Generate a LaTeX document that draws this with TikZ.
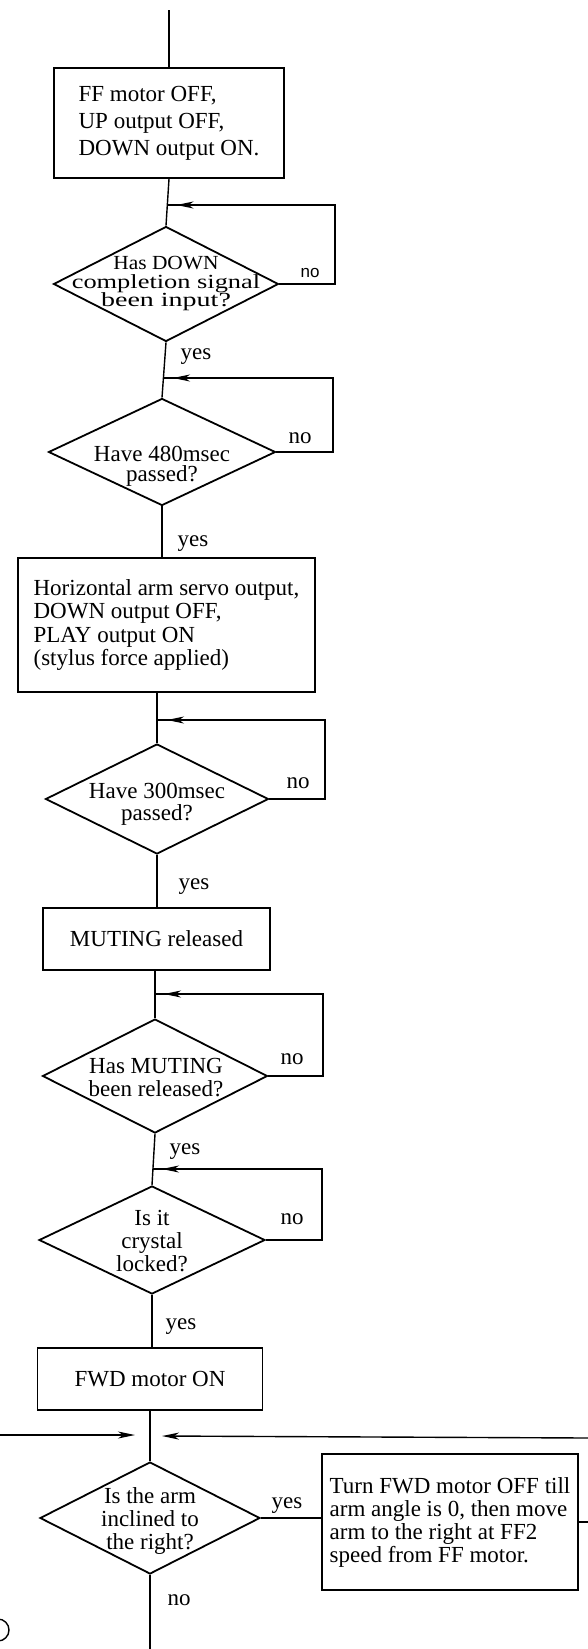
\documentclass[tikz,border=0pt]{standalone}
\usepackage{fontspec}
\setmainfont{Liberation Serif}
\newfontfamily\labsans{Liberation Sans}
\usepackage{graphicx}
\usetikzlibrary{shapes.geometric,arrows.meta,calc}
\begin{document}
\lineskiplimit=-100pt
\lineskip=0pt
\begin{tikzpicture}[x=1pt,y=-1pt,line join=miter,
  box/.style={draw,rectangle,line width=1.8pt,inner sep=0pt,align=left,font=\fontsize{23}{23.3}\selectfont},
  dia/.style={draw,diamond,line width=1.8pt,inner sep=0pt},
  txt/.style={align=center,inner sep=0pt,font=\fontsize{23}{23}\selectfont},
  lab/.style={inner sep=0pt,anchor=base,font=\fontsize{23}{23}\selectfont},
  conn/.style={line width=1.4pt},
  arr/.style={-{Stealth[length=17pt,width=7pt,inset=5pt]}}]

\useasboundingbox (0,0) rectangle (588,1649);

% ---- nodes ----
\coordinate (top) at (169,10);
\node[box,minimum width=230pt,minimum height=110pt,font=\fontsize{23}{27}\selectfont] (b1) at (169,123) {FF motor OFF,\\UP output OFF,\\DOWN output ON.};

\node[dia,minimum width=225pt,minimum height=115pt] (d1) at (166,284) {};
\node[txt,font=\fontsize{20}{18.5}\selectfont] (d1t) at (166,284) {\scalebox{1.07}[1]{Has DOWN}\\\scalebox{1.32}[1]{completion signal}\\\scalebox{1.4}[1]{been input?}};

\node[dia,minimum width=227pt,minimum height=107pt] (d2) at (162,452) {};
\node[txt,font=\fontsize{23}{20}\selectfont] (d2t) at (162,466) {Have 480msec\\passed?};

\node[box,minimum width=297pt,minimum height=134pt] (b2) at (166.5,625) {Horizontal arm servo output,\\DOWN output OFF,\\PLAY output ON\\(stylus force applied)};

\node[dia,minimum width=223pt,minimum height=110pt] (d3) at (157,799) {};
\node[txt,font=\fontsize{23}{22}\selectfont] (d3t) at (157,804) {Have 300msec\\passed?};

\node[box,minimum width=227pt,minimum height=62pt] (b3) at (156.5,939) {MUTING released};

\node[dia,minimum width=225pt,minimum height=114pt] (d4) at (155,1076) {};
\node[txt] (d4t) at (156,1078) {Has MUTING\\been released?};

\node[dia,minimum width=226pt,minimum height=108pt] (d5) at (152,1240) {};
\node[txt] (d5t) at (152,1241) {Is it\\crystal\\locked?};

\node[box,minimum width=225pt,minimum height=62pt] (b4) at (150,1379) {FWD motor ON};

\node[dia,minimum width=220pt,minimum height=112pt] (d6) at (150,1518) {};
\node[txt] (d6t) at (150,1521) {Is the arm\\inclined to\\the right?};

\node[box,minimum width=256pt,minimum height=136pt,font=\fontsize{23}{23}\selectfont] (b5) at (450,1522) {Turn FWD motor OFF till\\arm angle is 0, then move\\arm to the right at FF2\\speed from FF motor.};

\node[circle,draw,line width=1.4pt,minimum size=22pt,inner sep=0pt] (cref) at (-2,1630) {};

% ---- labels ----
\node[lab,font=\labsans\fontsize{17}{17}\selectfont] (n1) at (310,277) {no};
\node[lab] (y1) at (196,359) {yes};
\node[lab] (n2) at (300,443) {no};
\node[lab] (y2) at (193,546) {yes};
\node[lab] (n3) at (298,788) {no};
\node[lab] (y3) at (194,889) {yes};
\node[lab] (n4) at (292,1064) {no};
\node[lab] (y4) at (185,1154) {yes};
\node[lab] (n5) at (292,1224) {no};
\node[lab] (y5) at (181,1329) {yes};
\node[lab] (y6) at (287,1508) {yes};
\node[lab] (n6) at (179,1605) {no};

% ---- coordinates for loops ----
\coordinate (j1) at (167.5,205); \coordinate (c1) at (335,205);
\coordinate (j2) at (164,378);   \coordinate (c2) at (333,378);
\coordinate (j3) at (158,720);   \coordinate (c3) at (325,720);
\coordinate (j4) at (155,994);   \coordinate (c4) at (323,994);
\coordinate (j5) at (153,1169);  \coordinate (c5) at (322,1169);
\coordinate (la) at (0,1435);    \coordinate (lat) at (135,1435);
\coordinate (ra) at (588,1438);  \coordinate (rat) at (162,1436);
\coordinate (stub) at (588,1518);
\coordinate (bot) at (150,1649);

% ---- connectors ----
\draw[conn] (top) -- (b1.north);
\draw[conn] (b1.south) -- (d1.north);
\draw[conn] (d1.east) -| (c1) -- (j1);
\draw[conn,arr] (c1) -- ([xshift=9pt]j1);

\draw[conn] (d1.south) -- (d2.north);
\draw[conn] (d2.east) -| (c2) -- (j2);
\draw[conn,arr] (c2) -- ([xshift=9pt]j2);

\draw[conn] (d2.south) -- (d2.south |- b2.north);
\draw[conn] (d3.north |- b2.south) -- (d3.north);
\draw[conn] (d3.east) -| (c3) -- (j3);
\draw[conn,arr] (c3) -- ([xshift=9pt]j3);

\draw[conn] (d3.south) -- (d3.south |- b3.north);
\draw[conn] (d4.north |- b3.south) -- (d4.north);
\draw[conn] (d4.east) -| (c4) -- (j4);
\draw[conn,arr] (c4) -- ([xshift=9pt]j4);

\draw[conn] (d4.south) -- (d5.north);
\draw[conn] (d5.east) -| (c5) -- (j5);
\draw[conn,arr] (c5) -- ([xshift=9pt]j5);

\draw[conn] (d5.south) -- (d5.south |- b4.north);
\draw[conn] (b4.south) -- (d6.north);
\draw[conn,arr] (la) -- (lat);
\draw[conn,arr] (ra) -- (rat);

\draw[conn] (d6.east) -- (d6.east -| b5.west);
\draw[conn] (b5.east) -- (b5.east -| stub);
\draw[conn] (d6.south) -- (bot);
\end{tikzpicture}
\end{document}
